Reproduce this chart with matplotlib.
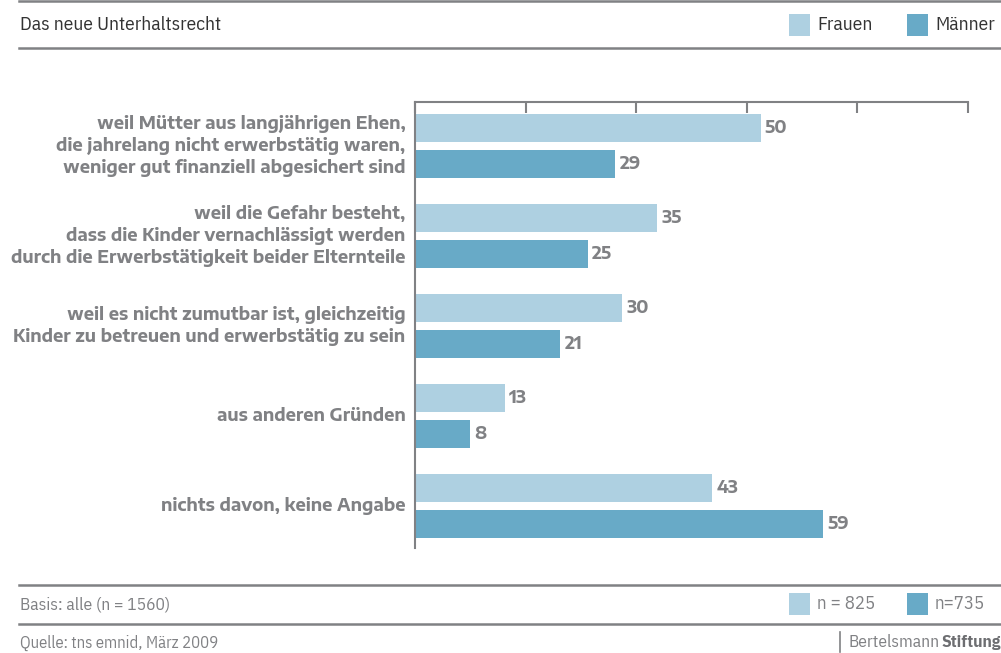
import matplotlib
matplotlib.use("Agg")
import matplotlib.pyplot as plt
from matplotlib.patches import Rectangle
from matplotlib.lines import Line2D
import numpy as np

BOLD = ['Encode Sans Semi Expanded', 'Noto Sans', 'DejaVu Sans']
REG = ['IBM Plex Sans Condensed', 'DejaVu Sans']
plt.rcParams['font.family'] = REG

categories = [
    "weil Mütter aus langjährigen Ehen,\ndie jahrelang nicht erwerbstätig waren,\nweniger gut finanziell abgesichert sind",
    "weil die Gefahr besteht,\ndass die Kinder vernachlässigt werden\ndurch die Erwerbstätigkeit beider Elternteile",
    "weil es nicht zumutbar ist, gleichzeitig\nKinder zu betreuen und erwerbstätig zu sein",
    "aus anderen Gründen",
    "nichts davon, keine Angabe",
]
frauen = [50, 35, 30, 13, 43]
maenner = [29, 25, 21, 8, 59]
series_names = ["Frauen", "Männer"]
sample_labels = ["n = 825", "n=735"]
title = "Das neue Unterhaltsrecht"
basis = "Basis: alle (n = 1560)"
source = "Quelle: tns emnid, März 2009"

c_f = "#aed0e1"
c_m = "#68aac7"
gray = "#808184"
txt = "#333333"

W, H = 1001, 653
fig = plt.figure(figsize=(W / 100, H / 100), dpi=100)

def fx(px):
    return px / W

def fy(py):
    return 1 - py / H

ax = fig.add_axes([fx(415), fy(548), fx(968) - fx(415), fy(102) - fy(548)])
y = np.arange(len(categories))
bh = 28 / 90
ax.barh(y - 0.2, frauen, height=bh, color=c_f, zorder=2)
ax.barh(y + 0.2, maenner, height=bh, color=c_m, zorder=2)
ax.set_xlim(0, 80)
ax.set_ylim(4 + 42 / 90, -44 / 90)
ax.set_xticks([0, 16, 32, 48, 64, 80])
ax.xaxis.tick_top()
ax.tick_params(axis='x', direction='in', length=8, width=1.5, color=gray,
               labeltop=False, labelbottom=False)
ax.set_yticks([])
for s in ['right', 'bottom']:
    ax.spines[s].set_visible(False)
for s in ['top', 'left']:
    ax.spines[s].set_color(gray)
    ax.spines[s].set_linewidth(1.5)

lab_kw = dict(fontsize=12.5, fontweight='bold', color=gray, family=BOLD)
for i, (f, m) in enumerate(zip(frauen, maenner)):
    ax.annotate(str(f), (f, i - 0.2), xytext=(3, 0), textcoords='offset points',
                va='center', ha='left', **lab_kw)
    ax.annotate(str(m), (m, i + 0.2), xytext=(3, 0), textcoords='offset points',
                va='center', ha='left', **lab_kw)
    ax.annotate(categories[i], (0, i), xytext=(-7, 0), textcoords='offset points',
                va='center', ha='right', linespacing=1.26,
                annotation_clip=False, **lab_kw)

# header / footer lines
for py in [1, 48, 585, 624]:
    fig.add_artist(Line2D([fx(19), 1], [fy(py), fy(py)], color=gray, lw=1.8))

fig.text(fx(20), fy(25), title, fontsize=14, color=txt, va='center', ha='left')
fig.text(fx(20), fy(604), basis, fontsize=12.6, color=gray, va='center', ha='left')
fig.text(fx(20), fy(643), source, fontsize=12, color=gray, va='center', ha='left')

def legend_patch(x0, y0, color, label, fs, tc):
    fig.add_artist(Rectangle((fx(x0), fy(y0 + 22)), fx(21), 22 / H,
                             facecolor=color, edgecolor='none'))
    fig.text(fx(x0 + 28), fy(y0 + 11), label, fontsize=fs, color=tc,
             va='center', ha='left')

legend_patch(789, 14, c_f, series_names[0], 14, txt)
legend_patch(907, 14, c_m, series_names[1], 14, txt)
legend_patch(789, 593, c_f, sample_labels[0], 13.5, gray)
legend_patch(907, 593, c_m, sample_labels[1], 13.5, gray)

fig.add_artist(Line2D([fx(840), fx(840)], [fy(632), fy(652)], color=gray, lw=1.2))
t1 = fig.text(fx(849), fy(642), "Bertelsmann", fontsize=12.5, color=gray,
              va='center', ha='left')
fig.canvas.draw()
bb = t1.get_window_extent()
fig.text(bb.x1 / W + 0.001, fy(642), "Stiftung", fontsize=12.5, color="#6d6e71",
         fontweight='bold', va='center', ha='left')

fig.savefig("out.png", dpi=100)
